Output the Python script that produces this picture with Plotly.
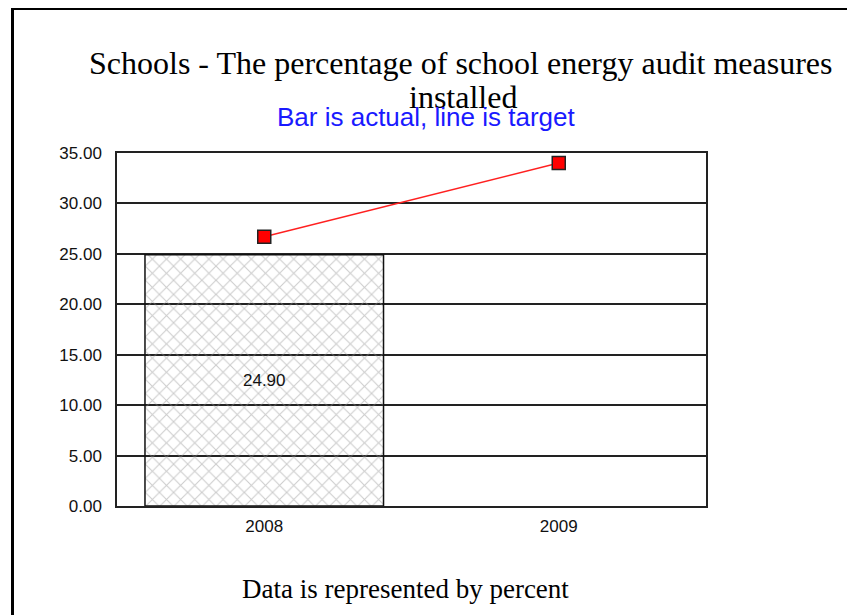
import plotly.graph_objects as go

categories = ["2008", "2009"]
actual = [24.90, None]
target = [26.7, 34.0]
y_ticks = [0, 5, 10, 15, 20, 25, 30, 35]
y_tick_labels = ["0.00", "5.00", "10.00", "15.00", "20.00", "25.00", "30.00", "35.00"]

OFF = 8  # page body margin
W, H = 855, 615
L, R, T, B = 109, 157, 145, 117
PW, PH = W - L - R, H - T - B

def px(x):
    return (x - OFF - L) / PW

def py(y):
    return (H - B - (y - OFF)) / PH

fig = go.Figure()
fig.add_trace(go.Bar(
    x=categories, y=actual,
    marker=dict(color="rgba(0,0,0,0)",
                line=dict(color="#111", width=1.5),
                pattern=dict(shape="x", fgcolor="#999999", bgcolor="rgba(255,255,255,0)",
                             size=10, solidity=0.2, fillmode="overlay")),
    text=["24.90", ""], textposition="inside", insidetextanchor="middle",
    textfont=dict(family="Liberation Sans", size=17, color="#111"),
    textangle=0, showlegend=False, hoverinfo="skip",
))
fig.add_trace(go.Scatter(
    x=categories, y=target, mode="lines+markers",
    line=dict(color="#ff2020", width=1.5),
    marker=dict(symbol="square", size=13, color="#ff0000", line=dict(color="#222", width=1.5)),
    showlegend=False,
))

fig.update_layout(
    width=W, height=H,
    margin=dict(l=L, r=R, t=T, b=B, pad=0),
    paper_bgcolor="white", plot_bgcolor="white",
    bargap=0.19,
    xaxis=dict(showline=True, linecolor="#222", linewidth=1.5, mirror=True,
               showgrid=False, ticks="", ticklabelstandoff=4,
               tickfont=dict(family="Liberation Sans", size=17, color="#111"),
               fixedrange=True),
    yaxis=dict(range=[0, 35], tickvals=y_ticks, ticktext=y_tick_labels,
               showline=True, linecolor="#222", linewidth=1.5, mirror=True,
               showgrid=True, gridcolor="#222", gridwidth=1.5, zeroline=False,
               ticks="", ticklabelstandoff=10,
               tickfont=dict(family="Liberation Sans", size=17, color="#111"), fixedrange=True),
    shapes=[
        dict(type="line", xref="paper", yref="paper", x0=px(12.5), x1=px(12.5), y0=py(7), y1=py(630),
             line=dict(color="black", width=3)),
        dict(type="line", xref="paper", yref="paper", x0=px(11), x1=px(870), y0=py(8.5), y1=py(8.5),
             line=dict(color="black", width=3)),
    ],
    annotations=[
        dict(text="Schools - The percentage of school energy audit measures", xref="paper", yref="paper",
             x=px(460), y=py(63), xanchor="center", yanchor="middle", showarrow=False,
             font=dict(family="Liberation Serif", size=32, color="black")),
        dict(text="installed", xref="paper", yref="paper",
             x=px(463), y=py(97), xanchor="center", yanchor="middle", showarrow=False,
             font=dict(family="Liberation Serif", size=32, color="black")),
        dict(text="Bar is actual, line is target", xref="paper", yref="paper",
             x=px(426), y=py(117), xanchor="center", yanchor="middle", showarrow=False,
             font=dict(family="Liberation Sans", size=26, color="#1a1aff")),
        dict(text="Data is represented by percent", xref="paper", yref="paper",
             x=px(405), y=py(589), xanchor="center", yanchor="middle", showarrow=False,
             font=dict(family="Liberation Serif", size=27, color="black")),
    ],
)

fig.write_html("out.html")
